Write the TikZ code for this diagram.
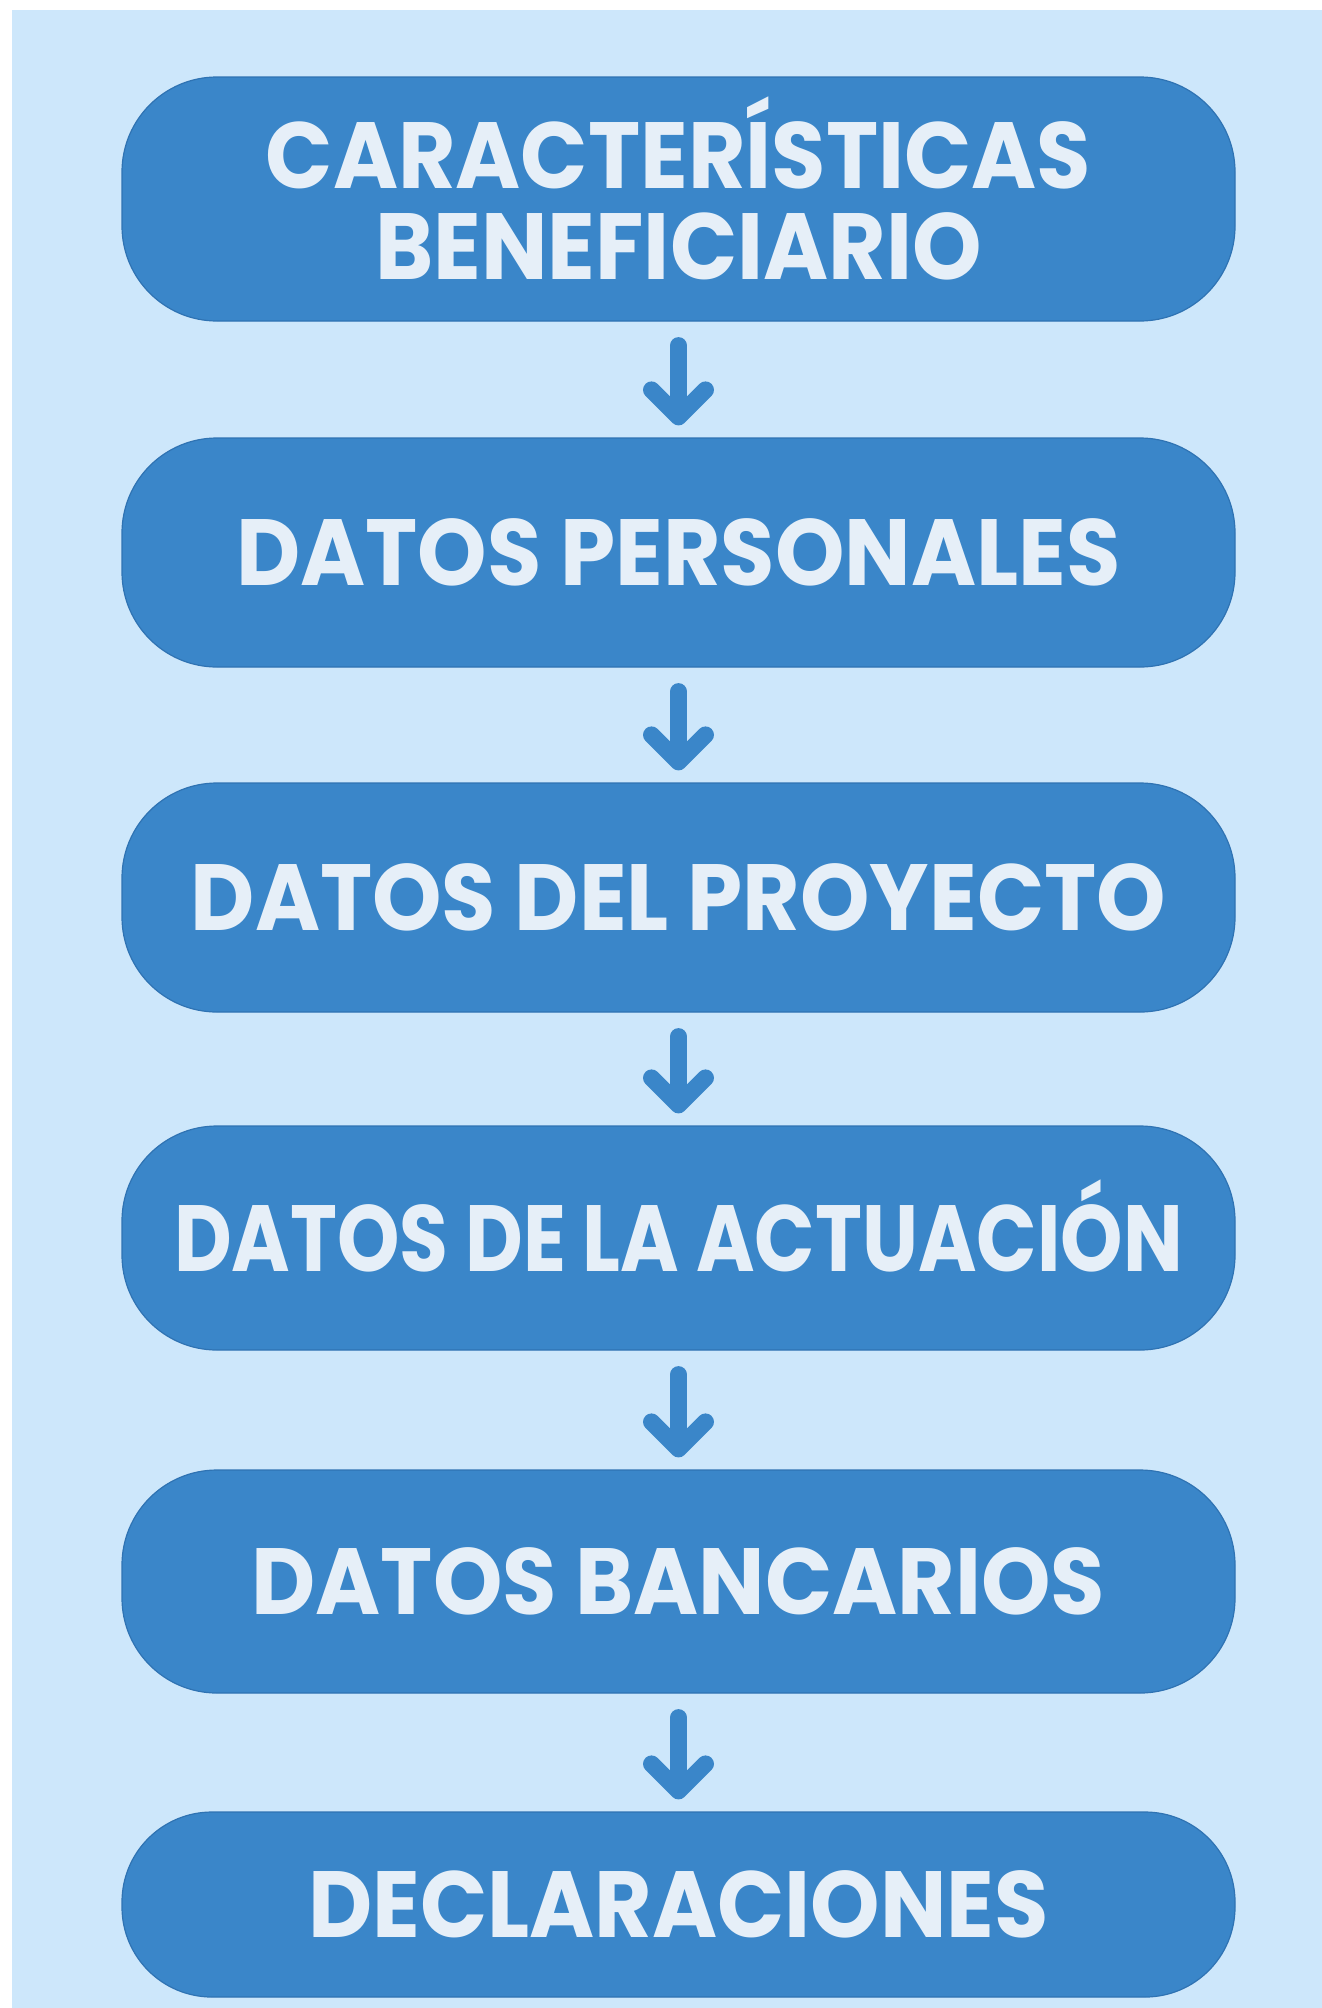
\documentclass[tikz,border=0pt]{standalone}
\usepackage{fontspec}
\newfontfamily\pop{Poppins}[FakeStretch=0.94]
\newfontfamily\popn{Poppins}[FakeStretch=0.845]
\usetikzlibrary{arrows.meta}
\definecolor{bgblue}{HTML}{CDE7FB}
\definecolor{boxblue}{HTML}{3A86C9}
\definecolor{boxedge}{HTML}{2F73B3}
\definecolor{txtcol}{HTML}{E6EFF8}
\begin{document}
\begin{tikzpicture}[x=1pt,y=-1pt,
  box/.style={fill=boxblue, draw=boxedge, line width=1.2pt, rounded corners=95pt,
    minimum width=1113pt, inner sep=0pt, text=txtcol, align=center,
    font=\pop\bfseries\fontsize{94}{91}\selectfont},
  flow/.style={draw=boxblue, line width=17pt, line cap=round,
    -{Straight Barb[length=27pt,width=54pt,round]},
    shorten <=24pt, shorten >=12pt}]
\useasboundingbox (0,0) rectangle (1322,2008);
\fill[white] (0,0) rectangle (1322,2008);
\fill[bgblue] (12,10) rectangle (1322,2008);
\node[box, minimum height=244pt, text depth=22pt] (b1) at (678.5,199) {CARACTERÍSTICAS\\BENEFICIARIO};
\node[box, minimum height=229pt] (b2) at (678.5,552.5) {DATOS PERSONALES};
\node[box, minimum height=229pt] (b3) at (678.5,897.5) {DATOS DEL PROYECTO};
\node[box, minimum height=224pt, text depth=24pt, font=\popn\bfseries\fontsize{94}{91}\selectfont] (b4) at (678.5,1238) {DATOS DE LA ACTUACIÓN};
\node[box, minimum height=223pt] (b5) at (678.5,1581.5) {DATOS BANCARIOS};
\node[box, minimum height=185pt, rounded corners=90pt] (b6) at (678.5,1904.5) {DECLARACIONES};
\draw[flow] (b1) -- (b2);
\draw[flow] (b2) -- (b3);
\draw[flow] (b3) -- (b4);
\draw[flow] (b4) -- (b5);
\draw[flow] (b5) -- (b6);
\end{tikzpicture}
\end{document}
